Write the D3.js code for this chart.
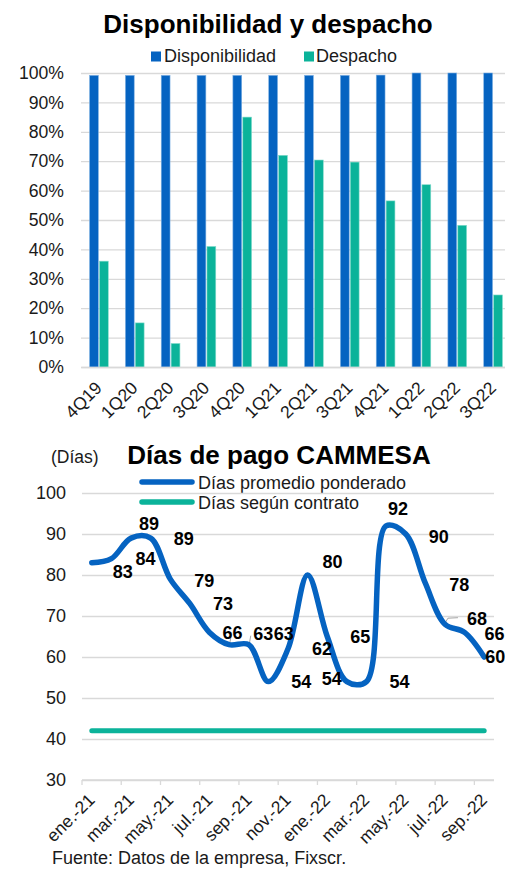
<!DOCTYPE html>
<html><head><meta charset="utf-8">
<script src="https://cdn.jsdelivr.net/npm/d3@7"></script>
<style>
html,body{margin:0;padding:0;background:#fff;overflow:hidden}
svg{display:block;font-family:"Liberation Sans",Arial,sans-serif}
</style></head>
<body>
<svg id="c" width="505" height="870"></svg>
<script>
// ---------- Data: top chart ----------
const quarters = ["4Q19","1Q20","2Q20","3Q20","4Q20","1Q21","2Q21","3Q21","4Q21","1Q22","2Q22","3Q22"];
const disponibilidad = [99.2,99.2,99.2,99.2,99.2,99.2,99.2,99.2,99.3,100,100,100];
const despacho = [36,15,8,41,85,72,70.4,69.7,56.5,62,48.2,24.5];
const pctTicks = [0,10,20,30,40,50,60,70,80,90,100];

// ---------- Data: bottom chart ----------
const months = ["ene.-21","feb.-21","mar.-21","abr.-21","may.-21","jun.-21","jul.-21","ago.-21","sep.-21","oct.-21","nov.-21","dic.-21",
                "ene.-22","feb.-22","mar.-22","abr.-22","may.-22","jun.-22","jul.-22","ago.-22","sep.-22"];
const diasPromedio = [83,84,89,89,79,73,66,63,63,54,62,80,65,54,54,92,90,78,68,66,60];
const diasContrato = [42,42,42,42,42,42,42,42,42,42,42,42,42,42,42,42,42,42,42,42,42];
const diasTicks = [30,40,50,60,70,80,90,100];
// label nudges (px) relative to each point, as placed in the original
const labelDx = [31,34,18,33,34,33,23,34,35,33,34,25,33,-15,33,12,33,34,32,30,11];
const labelDy = [9,0,-15,0,1,0,0,-11,-11,0,0,-14,0,-3,0,-17,2,1,-6,1,-1];
// points that carry a small leader line to their moved label
const leaderPoints = [7, 8, 18];

const BLUE = "#0563c1", TEAL = "#0bb39a", GRID = "#d9d9d9", TXT = "#1a1a1a";
const svg = d3.select("#c");

// ================= TOP CHART =================
svg.append("text").attr("x",268).attr("y",33).attr("text-anchor","middle")
  .attr("font-size",26).attr("font-weight","bold").attr("fill","#000").text("Disponibilidad y despacho");

const lg1 = svg.append("g");
lg1.append("rect").attr("x",151).attr("y",51.5).attr("width",10).attr("height",10).attr("fill",BLUE);
lg1.append("text").attr("x",164).attr("y",62).attr("font-size",18).attr("fill",TXT).text("Disponibilidad");
lg1.append("rect").attr("x",304).attr("y",51.5).attr("width",10).attr("height",10).attr("fill",TEAL);
lg1.append("text").attr("x",316).attr("y",62).attr("font-size",18).attr("fill",TXT).text("Despacho");

const xq = d3.scaleBand().domain(quarters).range([81, 511]);
const yp = d3.scaleLinear().domain([0,100]).range([367, 73]);
const grp = xq.bandwidth()*0.522;
const xs = d3.scaleBand().domain(["d","p"]).range([0,grp]).paddingInner(0.11);

const gy1 = svg.append("g").attr("transform","translate(81,0)")
  .call(d3.axisLeft(yp).tickValues(pctTicks).tickSize(-430).tickFormat(d=>d+"%"));
gy1.select(".domain").remove();
gy1.selectAll(".tick line").attr("stroke",GRID).attr("stroke-width",1.3);
gy1.selectAll(".tick text").attr("x",-17).attr("font-size",17.6).attr("fill",TXT)
  .attr("font-family","Liberation Sans, Arial, sans-serif");

const bars = svg.append("g");
quarters.forEach((q,i)=>{
  const x0 = xq(q) + (xq.bandwidth()-grp)/2;
  bars.append("rect").attr("x",x0+xs("d")).attr("y",yp(disponibilidad[i]))
    .attr("width",xs.bandwidth()).attr("height",yp(0)-yp(disponibilidad[i]))
    .attr("fill",BLUE).attr("stroke","#7fb1e3").attr("stroke-width",0.6);
  bars.append("rect").attr("x",x0+xs("p")).attr("y",yp(despacho[i]))
    .attr("width",xs.bandwidth()).attr("height",yp(0)-yp(despacho[i]))
    .attr("fill",TEAL).attr("stroke","#86dccd").attr("stroke-width",0.6);
});

const gx1 = svg.append("g").attr("transform","translate(0,367)")
  .call(d3.axisBottom(xq).tickSize(0));
gx1.select(".domain").attr("stroke",GRID).attr("stroke-width",1.3);
gx1.selectAll(".tick text").attr("font-size",17.6).attr("fill",TXT)
  .attr("font-family","Liberation Sans, Arial, sans-serif")
  .attr("text-anchor","end").attr("dy",0)
  .attr("transform","translate(4,22) rotate(-45)").attr("y",0);

// ================= BOTTOM CHART =================
svg.append("text").attr("x",51).attr("y",463).attr("font-size",17.5).attr("fill",TXT).text("(Días)");
svg.append("text").attr("x",279).attr("y",464).attr("text-anchor","middle")
  .attr("font-size",26).attr("font-weight","bold").attr("fill","#000").text("Días de pago CAMMESA");

const lg2 = svg.append("g");
lg2.append("line").attr("x1",142).attr("x2",192).attr("y1",482).attr("y2",482)
  .attr("stroke",BLUE).attr("stroke-width",5.5).attr("stroke-linecap","round");
lg2.append("text").attr("x",198).attr("y",488.5).attr("font-size",18).attr("fill",TXT).text("Días promedio ponderado");
lg2.append("line").attr("x1",142).attr("x2",192).attr("y1",502).attr("y2",502)
  .attr("stroke",TEAL).attr("stroke-width",5.5).attr("stroke-linecap","round");
lg2.append("text").attr("x",198).attr("y",508.5).attr("font-size",18).attr("fill",TXT).text("Días según contrato");

const xm = d3.scaleBand().domain(months).range([82, 494]);
const yd = d3.scaleLinear().domain([30,100]).range([780, 493]);
const cx = m => xm(m) + xm.bandwidth()/2;

const gy2 = svg.append("g").attr("transform","translate(82,0)")
  .call(d3.axisLeft(yd).tickValues(diasTicks).tickSize(-412));
gy2.select(".domain").remove();
gy2.selectAll(".tick line").attr("stroke",GRID).attr("stroke-width",1.3);
gy2.selectAll(".tick text").attr("x",-16).attr("font-size",18).attr("fill",TXT)
  .attr("font-family","Liberation Sans, Arial, sans-serif");

// x axis: ticks at every other month boundary, labels at month centre
const evenMonths = months.filter((m,i)=>i%2===0);
const gx2 = svg.append("g").attr("transform","translate(0,780)");
gx2.append("line").attr("x1",82).attr("x2",494).attr("stroke",GRID).attr("stroke-width",1.3);
gx2.selectAll("line.tk").data(evenMonths).join("line").attr("class","tk")
  .attr("x1",d=>xm(d)).attr("x2",d=>xm(d)).attr("y1",0).attr("y2",5)
  .attr("stroke",GRID).attr("stroke-width",1.3);
gx2.selectAll("text").data(evenMonths).join("text")
  .attr("font-size",17.5).attr("fill",TXT).attr("text-anchor","end")
  .attr("transform",d=>`translate(${cx(d)+4},21) rotate(-45)`).text(d=>d);

// contract line
svg.append("path").datum(diasContrato)
  .attr("d", d3.line().x((d,i)=>cx(months[i])).y(d=>yd(d)))
  .attr("fill","none").attr("stroke",TEAL).attr("stroke-width",5).attr("stroke-linecap","round");

// leader lines (gray) from points to their labels
svg.append("g").selectAll("path").data(leaderPoints).join("path")
  .attr("d",i=>{
    const px = cx(months[i]), py = yd(diasPromedio[i]);
    return i===18 ? `M${px},${py-1}L${px+3},${py-6}L${px+13},${py-6.5}`
                  : `M${px},${py+2}L${px+2},${py-9}`;
  })
  .attr("fill","none").attr("stroke","#a6a6a6").attr("stroke-width",1);

// weighted average line (smoothed)
svg.append("path").datum(diasPromedio)
  .attr("d", d3.line().curve(d3.curveCatmullRom.alpha(0.5)).x((d,i)=>cx(months[i])).y(d=>yd(d)))
  .attr("fill","none").attr("stroke",BLUE).attr("stroke-width",5.5)
  .attr("stroke-linecap","round").attr("stroke-linejoin","round");

// data labels
svg.append("g").selectAll("text").data(diasPromedio).join("text")
  .attr("x",(d,i)=>cx(months[i])+labelDx[i])
  .attr("y",(d,i)=>yd(d)+labelDy[i]+6.5)
  .attr("text-anchor","middle").attr("font-size",18).attr("font-weight","bold")
  .attr("fill","#000").text(d=>d);

svg.append("text").attr("x",52).attr("y",864).attr("font-size",18).attr("fill",TXT)
  .text("Fuente: Datos de la empresa, Fixscr.");
</script>
</body></html>
